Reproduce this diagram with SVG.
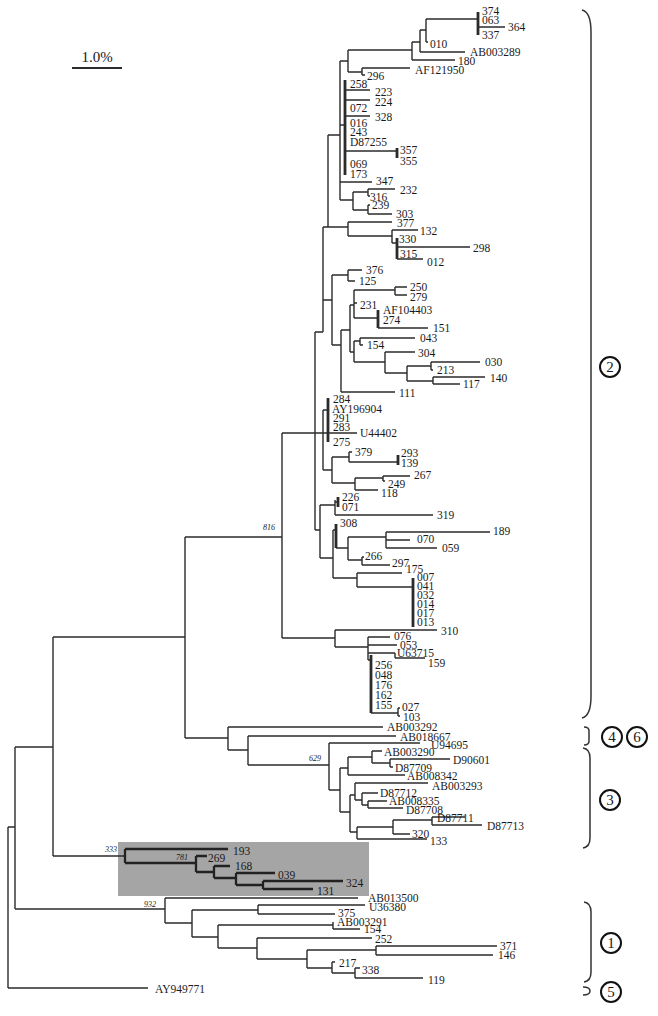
<svg xmlns="http://www.w3.org/2000/svg" width="658" height="1016" viewBox="0 0 658 1016">
<style>
.ln{fill:none;stroke:#2b2b2b;stroke-width:1.4}
.tk{fill:none;stroke:#2b2b2b;stroke-width:2.8}
.bx{fill:none;stroke:#222;stroke-width:2.3}
.br{fill:none;stroke:#333;stroke-width:1.5}
text{font-family:"Liberation Serif","Times New Roman",serif;fill:#1a1a1a}
.t{font-size:11.5px}
.bs{font-size:8px;font-style:italic}
.cc{fill:#fff;stroke:#111;stroke-width:2}
.cn{font-size:15px;text-anchor:middle}
</style>
<rect width="658" height="1016" fill="#fff"/>
<g id="scale"><text x="97" y="62" style="font-size:15px" text-anchor="middle">1.0%</text><path d="M72 68H122" class="ln" style="stroke-width:2"/></g>
<rect id="highlight" x="118" y="842" width="251" height="54" fill="#a5a5a5"/>
<g id="connectors">
<path class="ln" d="M8 827V988M8 827H15M15 747V909M15 747H53M53 637V856M53 637H185M185 537V738M185 537H282M185 738H228M282 433V638M282 433H357M282 638H335M15 909H165M8 988H148M53 856H125
M228 727V750M228 727H383M228 750H248M248 736V765M248 736H396M248 765H329
M315 332V530M315 332H323M323 227V332M323 227H348M328 135V227M328 135H340M340 61V200
M340 61H348M348 50V72M348 50H412M412 42V60M412 60H455M412 42H420M420 30V52M420 52H465M420 30H426M426 19V42M426 42H428M426 19H478M478 27H505
M348 72H362M362 68V75M362 68H410M362 75H365
M340 125H345M345 90H370M345 100H370M345 116H370M345 151H397M340 182H372
M340 200H353M353 192V210M353 192H368M368 189V196M368 189H395M368 196H370M353 210H368M368 205V214M368 205H370M368 214H392
M348 222V236M348 222H392M348 236H392M392 230V243M392 230H418M392 243H397M397 247H470M397 259H423
M323 300H332M332 275V345M332 275H348M348 270V281M348 270H362M348 281H355M332 345H341M341 330V392M341 392H395M341 330H350M350 305V352M350 305H354M354 290V318M354 290H395M395 287V295M395 287H407M395 295H407M354 303H357M354 318H378M378 328H428M350 352H354M354 341V362M354 341H360M360 338V345M360 338H415M360 345H363M354 362H385M385 352V373M385 352H415M385 373H407M407 366V381M407 366H431M431 362V370M431 362H480M431 370H433M407 381H433M433 377V384M433 377H485M433 384H460
M323 410V470M323 410H328M323 470H332M332 457V483M332 457H349M349 452V462M349 452H352M349 462H398M332 483H355M355 478V490M355 478H383M383 476V481M383 476H410M383 481H385M355 490H378
M315 530H320M320 505V558M320 505H335M335 500V515M335 502H338M335 515H433M320 558H333M333 530V578M333 530H336M336 548H348M348 537V560M348 537H386M386 532V548M386 532H490M386 540H410M386 548H437M348 560H362M362 557V565M362 557H364M362 565H390M333 578H357M357 573V587M357 573H402M357 587H413
M335 630V647M335 630H437M335 647H368M368 637V660M368 637H390M368 645H397M368 653H395M395 653V658M395 658H425M368 660H371M371 713H398M398 708V716M398 708H400M398 716H400
M329 743V790M329 743H420M329 790H340M340 768V812M340 768H348M348 757V775M348 757H372M372 751V763M372 751H382M372 763H390M390 759V767M390 759H450M390 767H393M348 775H405M340 812H350M350 795V832M350 795H355M355 783V800M355 783H428M355 800H362M362 793V805M362 793H378M362 805H368M368 801V808M368 801H387M368 808H403M350 832H357M357 827V839M357 827H393M393 820V834M393 820H432M432 817V825M432 817H465M432 825H482M393 834H410M357 839H427
M165 898V923M165 898H358M165 923H192M192 910V937M192 910H258M258 905V914M258 905H365M258 914H335M192 937H218M218 925V948M218 925H333M333 922V929M333 929H360M218 948H257M257 938V959M257 938H372M257 959H307M307 950V968M307 950H376M376 946V955M376 946H497M376 955H493M307 968H332M332 962V973M332 962H335M332 973H355M355 968V978M355 968H360M355 978H423"/>
<path class="tk" d="M478 12V35M345 80V175M397 148V158M397 238V259M378 310V328M328 398V442M398 455V465M336 524V548M413 578V627M371 655V713M338 497V507"/>
<path class="bx" d="M125 849V863M125 849H228M125 863H196M196 856V872M196 856H207M196 872H214M214 866V878M214 866H230M214 878H236M236 873V885M236 873H275M236 885H263M263 881V889M263 881H343M263 889H313"/>
</g>
<g id="bootstrap">
<text class="bs" x="263" y="530">816</text>
<text class="bs" x="309" y="761">629</text>
<text class="bs" x="105" y="852">333</text>
<text class="bs" x="176" y="860">781</text>
<text class="bs" x="144" y="907">932</text>
</g>
<g id="leaves">
<g id="n374"><text class="t" x="482" y="15">374</text></g>
<g id="n063"><text class="t" x="482" y="24">063</text></g>
<g id="n364"><text class="t" x="508" y="31">364</text></g>
<g id="n337"><text class="t" x="482" y="39">337</text></g>
<g id="n010"><text class="t" x="430" y="48">010</text></g>
<g id="nAB003289"><text class="t" x="470" y="56">AB003289</text></g>
<g id="n180"><text class="t" x="458" y="65">180</text></g>
<g id="nAF121950"><text class="t" x="415" y="74">AF121950</text></g>
<g id="n296"><text class="t" x="367" y="80">296</text></g>
<g id="n258"><text class="t" x="350" y="88">258</text></g>
<g id="n223"><text class="t" x="375" y="96">223</text></g>
<g id="n224"><text class="t" x="375" y="106">224</text></g>
<g id="n072"><text class="t" x="350" y="112">072</text></g>
<g id="n328"><text class="t" x="375" y="121">328</text></g>
<g id="n016"><text class="t" x="350" y="127">016</text></g>
<g id="n243"><text class="t" x="350" y="136">243</text></g>
<g id="nD87255"><text class="t" x="350" y="146">D87255</text></g>
<g id="n357"><text class="t" x="400" y="154">357</text></g>
<g id="n355"><text class="t" x="400" y="165">355</text></g>
<g id="n069"><text class="t" x="350" y="168">069</text></g>
<g id="n173"><text class="t" x="350" y="178">173</text></g>
<g id="n347"><text class="t" x="376" y="185">347</text></g>
<g id="n232"><text class="t" x="400" y="194">232</text></g>
<g id="n316"><text class="t" x="370" y="201">316</text></g>
<g id="n239"><text class="t" x="372" y="209">239</text></g>
<g id="n303"><text class="t" x="396" y="218">303</text></g>
<g id="n377"><text class="t" x="397" y="227">377</text></g>
<g id="n132"><text class="t" x="420" y="235">132</text></g>
<g id="n330"><text class="t" x="399" y="243">330</text></g>
<g id="n298"><text class="t" x="473" y="252">298</text></g>
<g id="n315"><text class="t" x="400" y="258">315</text></g>
<g id="n012"><text class="t" x="427" y="266">012</text></g>
<g id="n376"><text class="t" x="366" y="274">376</text></g>
<g id="n125"><text class="t" x="359" y="285">125</text></g>
<g id="n250"><text class="t" x="410" y="291">250</text></g>
<g id="n279"><text class="t" x="410" y="301">279</text></g>
<g id="n231"><text class="t" x="360" y="309">231</text></g>
<g id="nAF104403"><text class="t" x="383" y="314">AF104403</text></g>
<g id="n274"><text class="t" x="383" y="324">274</text></g>
<g id="n151"><text class="t" x="433" y="332">151</text></g>
<g id="n043"><text class="t" x="420" y="342">043</text></g>
<g id="n154a"><text class="t" x="367" y="349">154</text></g>
<g id="n304"><text class="t" x="418" y="357">304</text></g>
<g id="n030"><text class="t" x="485" y="366">030</text></g>
<g id="n213"><text class="t" x="437" y="374">213</text></g>
<g id="n140"><text class="t" x="490" y="382">140</text></g>
<g id="n117"><text class="t" x="463" y="388">117</text></g>
<g id="n111"><text class="t" x="399" y="397">111</text></g>
<g id="n284"><text class="t" x="333" y="403">284</text></g>
<g id="nAY196904"><text class="t" x="332" y="413">AY196904</text></g>
<g id="n291"><text class="t" x="333" y="422">291</text></g>
<g id="n283"><text class="t" x="333" y="431">283</text></g>
<g id="nU44402"><text class="t" x="360" y="437">U44402</text></g>
<g id="n275"><text class="t" x="333" y="446">275</text></g>
<g id="n379"><text class="t" x="355" y="456">379</text></g>
<g id="n293"><text class="t" x="401" y="457">293</text></g>
<g id="n139"><text class="t" x="401" y="467">139</text></g>
<g id="n267"><text class="t" x="414" y="479">267</text></g>
<g id="n249"><text class="t" x="388" y="488">249</text></g>
<g id="n118"><text class="t" x="381" y="497">118</text></g>
<g id="n226"><text class="t" x="342" y="501">226</text></g>
<g id="n071"><text class="t" x="342" y="511">071</text></g>
<g id="n319"><text class="t" x="437" y="519">319</text></g>
<g id="n308"><text class="t" x="340" y="527">308</text></g>
<g id="n189"><text class="t" x="493" y="535">189</text></g>
<g id="n070"><text class="t" x="417" y="543">070</text></g>
<g id="n059"><text class="t" x="442" y="552">059</text></g>
<g id="n266"><text class="t" x="365" y="560">266</text></g>
<g id="n297"><text class="t" x="392" y="567">297</text></g>
<g id="n175"><text class="t" x="406" y="573">175</text></g>
<g id="n007"><text class="t" x="417" y="581">007</text></g>
<g id="n041"><text class="t" x="417" y="590">041</text></g>
<g id="n032"><text class="t" x="417" y="599">032</text></g>
<g id="n014"><text class="t" x="417" y="608">014</text></g>
<g id="n017"><text class="t" x="417" y="617">017</text></g>
<g id="n013"><text class="t" x="417" y="626">013</text></g>
<g id="n310"><text class="t" x="441" y="635">310</text></g>
<g id="n076"><text class="t" x="394" y="640">076</text></g>
<g id="n053"><text class="t" x="400" y="649">053</text></g>
<g id="nU63715"><text class="t" x="397" y="657">U63715</text></g>
<g id="n159"><text class="t" x="428" y="667">159</text></g>
<g id="n256"><text class="t" x="375" y="669">256</text></g>
<g id="n048"><text class="t" x="375" y="679">048</text></g>
<g id="n176"><text class="t" x="375" y="689">176</text></g>
<g id="n162"><text class="t" x="375" y="699">162</text></g>
<g id="n155"><text class="t" x="375" y="709">155</text></g>
<g id="n027"><text class="t" x="402" y="711">027</text></g>
<g id="n103"><text class="t" x="403" y="721">103</text></g>
<g id="nAB003292"><text class="t" x="387" y="731">AB003292</text></g>
<g id="nAB018667"><text class="t" x="400" y="741">AB018667</text></g>
<g id="nU94695"><text class="t" x="431" y="749">U94695</text></g>
<g id="nAB003290"><text class="t" x="384" y="756">AB003290</text></g>
<g id="nD90601"><text class="t" x="453" y="764">D90601</text></g>
<g id="nD87709"><text class="t" x="395" y="772">D87709</text></g>
<g id="nAB008342"><text class="t" x="407" y="780">AB008342</text></g>
<g id="nAB003293"><text class="t" x="432" y="790">AB003293</text></g>
<g id="nD87712"><text class="t" x="380" y="797">D87712</text></g>
<g id="nAB008335"><text class="t" x="389" y="805">AB008335</text></g>
<g id="nD87708"><text class="t" x="406" y="814">D87708</text></g>
<g id="nD87711"><text class="t" x="437" y="822">D87711</text></g>
<g id="nD87713"><text class="t" x="487" y="830">D87713</text></g>
<g id="n320"><text class="t" x="412" y="838">320</text></g>
<g id="n133"><text class="t" x="430" y="845">133</text></g>
<g id="n193"><text class="t" x="233" y="855">193</text></g>
<g id="n269"><text class="t" x="208" y="862">269</text></g>
<g id="n168"><text class="t" x="235" y="870">168</text></g>
<g id="n039"><text class="t" x="278" y="879">039</text></g>
<g id="n324"><text class="t" x="346" y="887">324</text></g>
<g id="n131"><text class="t" x="317" y="895">131</text></g>
<g id="nAB013500"><text class="t" x="368" y="902">AB013500</text></g>
<g id="nU36380"><text class="t" x="369" y="911">U36380</text></g>
<g id="n375"><text class="t" x="338" y="917">375</text></g>
<g id="nAB003291"><text class="t" x="337" y="926">AB003291</text></g>
<g id="n154b"><text class="t" x="364" y="933">154</text></g>
<g id="n252"><text class="t" x="375" y="943">252</text></g>
<g id="n371"><text class="t" x="500" y="950">371</text></g>
<g id="n146"><text class="t" x="498" y="959">146</text></g>
<g id="n217"><text class="t" x="339" y="967">217</text></g>
<g id="n338"><text class="t" x="362" y="974">338</text></g>
<g id="n119"><text class="t" x="428" y="984">119</text></g>
<g id="nAY949771"><text class="t" x="155" y="993">AY949771</text></g>
</g>
<g id="groups">
<path class="br" d="M582 10Q591 12 591 32V696Q591 716 582 718"/>
<path class="br" d="M584 727Q589 727 589 731V741Q589 745 584 745"/>
<path class="br" d="M583 748Q590 749 590 758V838Q590 847 583 848"/>
<path class="br" d="M584 902Q591 903 591 912V972Q591 981 584 982"/>
<path class="br" d="M583 987Q590 987 590 991Q590 995 583 995"/>
<g id="g2"><circle class="cc" cx="610" cy="367" r="10"/><text class="cn" x="610" y="372">2</text></g>
<g id="g4"><circle class="cc" cx="612" cy="737" r="10"/><text class="cn" x="612" y="742">4</text></g>
<g id="g6"><circle class="cc" cx="637" cy="737" r="10"/><text class="cn" x="637" y="742">6</text></g>
<g id="g3"><circle class="cc" cx="610" cy="800" r="10"/><text class="cn" x="610" y="805">3</text></g>
<g id="g1"><circle class="cc" cx="611" cy="943" r="10"/><text class="cn" x="611" y="948">1</text></g>
<g id="g5"><circle class="cc" cx="611" cy="992" r="10"/><text class="cn" x="611" y="997">5</text></g>
</g>
</svg>
